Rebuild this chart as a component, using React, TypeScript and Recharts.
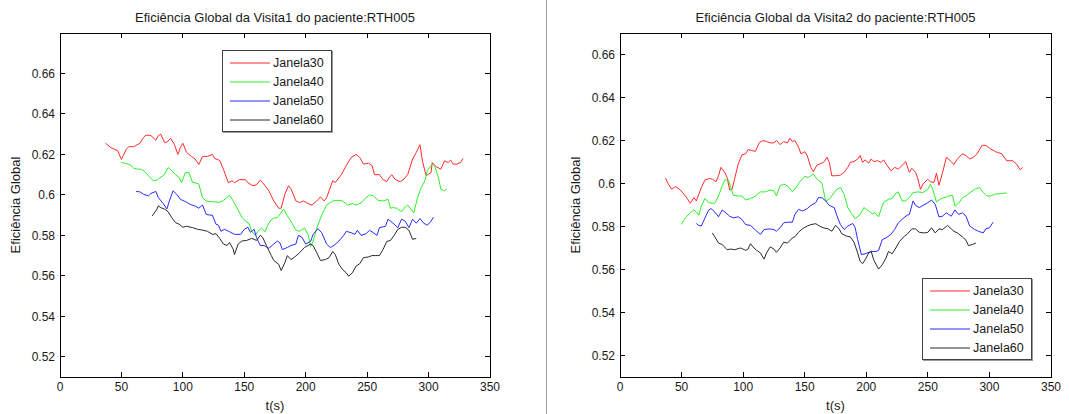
import React from 'react';
import {
  LineChart,
  Line,
  XAxis,
  YAxis,
  ReferenceArea,
  Legend,
} from 'recharts';

// [t (s), eficiência global]
const V1_J30: [number, number][] = [
  [37, 0.6256], [41, 0.6235], [47, 0.6218], [50, 0.6175], [54, 0.6226], [56, 0.6238], [60, 0.6238], [65, 0.6255],
  [68, 0.6284], [70, 0.6296], [74, 0.6293], [78, 0.627], [80, 0.6293], [82, 0.63], [85, 0.626], [87, 0.626],
  [90, 0.628], [93, 0.625], [96, 0.62], [98, 0.6235], [100, 0.6255], [103, 0.621], [107, 0.619], [110, 0.6177],
  [113, 0.615], [116, 0.619], [120, 0.619], [124, 0.62], [126, 0.618], [130, 0.617], [133, 0.6127], [137, 0.606],
  [140, 0.607], [142, 0.606], [146, 0.6075], [151, 0.6075], [153, 0.606], [157, 0.6045], [160, 0.605], [163, 0.6073],
  [165, 0.606], [170, 0.602], [174, 0.597], [178, 0.5934], [180, 0.5934], [183, 0.6003], [186, 0.6045], [188, 0.603],
  [192, 0.597], [195, 0.5962], [198, 0.597], [202, 0.5957], [205, 0.595], [209, 0.597], [212, 0.599], [215, 0.597],
  [217, 0.5986], [222, 0.607], [224, 0.6061], [229, 0.61], [233, 0.6145], [237, 0.6185], [241, 0.62], [244, 0.6185],
  [247, 0.6152], [251, 0.6157], [254, 0.6145], [256, 0.61], [260, 0.61], [263, 0.6075], [266, 0.6066], [268, 0.6086],
  [270, 0.61], [273, 0.6075], [277, 0.6065], [280, 0.6078], [283, 0.61], [287, 0.6177], [290, 0.621], [293, 0.6248],
  [295, 0.6168], [298, 0.6095], [302, 0.611], [303, 0.616], [306, 0.614], [310, 0.6127], [313, 0.6168], [316, 0.616],
  [318, 0.6172], [320, 0.6152], [323, 0.6152], [326, 0.616], [328, 0.618],
];

const V1_J40: [number, number][] = [
  [50, 0.616], [54, 0.6155], [57, 0.6149], [60, 0.6132], [63, 0.6127], [66, 0.6127], [69, 0.6116], [72, 0.6094],
  [76, 0.607], [79, 0.6073], [81, 0.6083], [85, 0.61], [88, 0.6135], [91, 0.612], [94, 0.61], [97, 0.6086],
  [99, 0.606], [102, 0.611], [105, 0.611], [108, 0.606], [110, 0.606], [113, 0.6053], [116, 0.5986], [119, 0.597],
  [122, 0.5967], [126, 0.5965], [130, 0.5963], [133, 0.5973], [136, 0.5987], [138, 0.5998], [141, 0.597], [144, 0.5937],
  [148, 0.589], [151, 0.587], [154, 0.5858], [156, 0.582], [159, 0.58], [161, 0.582], [164, 0.5836], [167, 0.5818],
  [169, 0.585], [172, 0.5878], [174, 0.5885], [177, 0.5888], [179, 0.5905], [182, 0.593], [185, 0.5896], [188, 0.587],
  [192, 0.5825], [195, 0.582], [199, 0.5836], [202, 0.5803], [204, 0.5745], [206, 0.577], [209, 0.5836], [213, 0.59],
  [217, 0.595], [222, 0.597], [226, 0.5973], [230, 0.597], [234, 0.595], [238, 0.5957], [241, 0.595], [245, 0.596],
  [249, 0.5986], [252, 0.6], [255, 0.5995], [259, 0.5973], [263, 0.597], [267, 0.5978], [269, 0.5934], [271, 0.5937],
  [274, 0.5934], [278, 0.5917], [280, 0.5934], [283, 0.595], [285, 0.5934], [288, 0.5912], [291, 0.5986], [294, 0.6036],
  [297, 0.607], [299, 0.612], [303, 0.6152], [305, 0.6143], [308, 0.6086], [310, 0.6028], [313, 0.602], [315, 0.6031],
];

const V1_J50: [number, number][] = [
  [62, 0.6017], [65, 0.6015], [68, 0.6003], [72, 0.5995], [74, 0.6007], [78, 0.6017], [80, 0.5987], [84, 0.5957],
  [87, 0.593], [89, 0.597], [92, 0.602], [95, 0.6003], [98, 0.5978], [102, 0.5967], [106, 0.5953], [110, 0.5945],
  [113, 0.5934], [116, 0.595], [119, 0.5904], [122, 0.59], [124, 0.59], [127, 0.5855], [129, 0.585], [131, 0.582],
  [134, 0.583], [138, 0.5818], [142, 0.5805], [147, 0.5805], [150, 0.583], [153, 0.584], [155, 0.5815], [158, 0.583],
  [160, 0.5788], [163, 0.575], [166, 0.575], [170, 0.5736], [173, 0.5752], [177, 0.5772], [179, 0.5763], [181, 0.573],
  [185, 0.574], [188, 0.575], [192, 0.5757], [194, 0.58], [197, 0.579], [200, 0.5757], [204, 0.577], [206, 0.5805],
  [210, 0.5833], [213, 0.5813], [217, 0.5757], [220, 0.574], [223, 0.575], [227, 0.5772], [231, 0.58], [233, 0.582],
  [237, 0.5813], [240, 0.5805], [242, 0.5825], [245, 0.58], [249, 0.5808], [252, 0.5825], [255, 0.5813], [258, 0.58],
  [260, 0.5838], [265, 0.5845], [267, 0.588], [271, 0.586], [275, 0.5838], [278, 0.588], [281, 0.587], [284, 0.5838],
  [287, 0.588], [290, 0.586], [293, 0.5883], [296, 0.586], [299, 0.585], [302, 0.587], [304, 0.589],
];

const V1_J60: [number, number][] = [
  [75, 0.5896], [79, 0.593], [80, 0.5946], [82, 0.5937], [85, 0.593], [88, 0.5917], [91, 0.5887], [94, 0.5863],
  [97, 0.5855], [100, 0.584], [103, 0.5845], [108, 0.5838], [112, 0.583], [116, 0.5826], [120, 0.582], [124, 0.5805],
  [127, 0.5808], [130, 0.5785], [133, 0.5757], [136, 0.575], [138, 0.5765], [141, 0.5731], [142, 0.5705], [145, 0.5757],
  [148, 0.5772], [152, 0.5775], [156, 0.5785], [160, 0.5775], [163, 0.58], [165, 0.579], [168, 0.575], [172, 0.57],
  [174, 0.5676], [178, 0.5657], [180, 0.5626], [183, 0.5665], [185, 0.57], [188, 0.568], [191, 0.5693], [195, 0.5714],
  [199, 0.574], [204, 0.5757], [206, 0.575], [209, 0.5714], [212, 0.5676], [216, 0.568], [219, 0.569], [222, 0.572],
  [224, 0.5706], [227, 0.5657], [230, 0.5631], [233, 0.5615], [235, 0.5598], [238, 0.5615], [241, 0.5648], [244, 0.566],
  [247, 0.569], [251, 0.5693], [254, 0.57], [257, 0.57], [260, 0.57], [263, 0.5731], [266, 0.577], [269, 0.5775],
  [272, 0.58], [275, 0.583], [278, 0.584], [281, 0.584], [284, 0.5825], [287, 0.578], [290, 0.5785],
];

const V2_J30: [number, number][] = [
  [37, 0.6025], [39, 0.6], [42, 0.5973], [45, 0.5986], [49, 0.597], [52, 0.595], [55, 0.5927], [57, 0.5908],
  [60, 0.5934], [62, 0.5919], [64, 0.595], [66, 0.598], [69, 0.6017], [73, 0.6023], [75, 0.602], [78, 0.6008],
  [80, 0.6036], [82, 0.6075], [85, 0.6052], [87, 0.6028], [89, 0.597], [91, 0.5973], [93, 0.602], [96, 0.609],
  [99, 0.6133], [102, 0.6138], [104, 0.6158], [107, 0.6153], [110, 0.615], [113, 0.6189], [116, 0.62], [119, 0.6195],
  [122, 0.6189], [125, 0.6189], [127, 0.62], [130, 0.6181], [133, 0.6195], [136, 0.6189], [138, 0.6211], [140, 0.6195],
  [142, 0.62], [145, 0.6169], [147, 0.6138], [150, 0.6148], [152, 0.613], [155, 0.6075], [157, 0.6055], [160, 0.6086],
  [164, 0.6095], [166, 0.6102], [168, 0.6122], [170, 0.6098], [172, 0.6036], [175, 0.6036], [179, 0.6039], [182, 0.6052],
  [185, 0.6075], [187, 0.6098], [190, 0.6102], [193, 0.6114], [195, 0.613], [197, 0.6098], [199, 0.611], [202, 0.6095],
  [204, 0.6114], [206, 0.6102], [209, 0.6106], [212, 0.6098], [214, 0.611], [217, 0.6083], [220, 0.6059], [223, 0.6075],
  [226, 0.6067], [229, 0.6083], [232, 0.6102], [235, 0.6052], [237, 0.607], [240, 0.6052], [242, 0.602], [244, 0.5973],
  [246, 0.5997], [250, 0.602], [252, 0.6008], [255, 0.6005], [257, 0.6048], [259, 0.5992], [262, 0.6052], [265, 0.6122],
  [269, 0.6102], [271, 0.6088], [274, 0.6114], [278, 0.6138], [281, 0.613], [284, 0.6114], [287, 0.6122], [290, 0.6138],
  [294, 0.6177], [297, 0.6177], [301, 0.6161], [305, 0.6148], [310, 0.6138], [314, 0.6106], [316, 0.6106], [319, 0.6106],
  [322, 0.609], [325, 0.6064], [327, 0.6075],
];

const V2_J40: [number, number][] = [
  [50, 0.581], [53, 0.584], [57, 0.5864], [60, 0.5877], [62, 0.5867], [64, 0.5852], [66, 0.5895], [69, 0.593],
  [72, 0.5911], [75, 0.5908], [77, 0.5908], [80, 0.5942], [83, 0.5989], [85, 0.6016], [88, 0.6017], [90, 0.5981],
  [92, 0.5945], [96, 0.5942], [99, 0.5942], [102, 0.5923], [106, 0.593], [110, 0.5942], [114, 0.5961], [118, 0.5961],
  [122, 0.597], [125, 0.5966], [127, 0.5942], [130, 0.5989], [133, 0.5997], [136, 0.5989], [140, 0.5961], [143, 0.5981],
  [146, 0.6008], [150, 0.6033], [153, 0.6028], [157, 0.6044], [160, 0.602], [164, 0.6002], [165, 0.5973], [167, 0.5919],
  [170, 0.5927], [174, 0.5958], [176, 0.5973], [179, 0.5981], [182, 0.595], [185, 0.5888], [188, 0.5861], [191, 0.5836],
  [195, 0.5856], [198, 0.5888], [202, 0.5872], [205, 0.5859], [207, 0.5864], [210, 0.5845], [212, 0.588], [214, 0.5911],
  [218, 0.5927], [221, 0.593], [224, 0.5955], [226, 0.5961], [229, 0.5919], [232, 0.5919], [235, 0.5934], [238, 0.5958],
  [242, 0.5961], [246, 0.5958], [250, 0.5973], [252, 0.5997], [254, 0.5973], [257, 0.5914], [260, 0.5927], [263, 0.5934],
  [267, 0.5942], [270, 0.5945], [272, 0.5895], [275, 0.5908], [278, 0.5934], [281, 0.5942], [285, 0.5961], [288, 0.5973],
  [292, 0.5981], [295, 0.5958], [298, 0.5942], [301, 0.5942], [304, 0.595], [308, 0.5953], [311, 0.5955], [314, 0.5955],
];

const V2_J50: [number, number][] = [
  [62, 0.5814], [64, 0.5805], [66, 0.5802], [69, 0.584], [72, 0.5877], [74, 0.5883], [77, 0.5867], [80, 0.5845],
  [83, 0.5877], [86, 0.5864], [89, 0.5848], [92, 0.584], [96, 0.5845], [99, 0.5833], [102, 0.5809], [106, 0.5805],
  [110, 0.5783], [114, 0.5763], [117, 0.5786], [121, 0.5789], [125, 0.5786], [127, 0.5778], [130, 0.5794], [133, 0.5817],
  [136, 0.582], [140, 0.582], [142, 0.5856], [145, 0.588], [148, 0.5872], [152, 0.5883], [155, 0.5898], [159, 0.5911],
  [161, 0.5934], [164, 0.5934], [167, 0.5919], [170, 0.5898], [174, 0.5888], [176, 0.5852], [179, 0.5809], [182, 0.5786],
  [185, 0.5802], [189, 0.5814], [191, 0.5794], [193, 0.5739], [196, 0.5669], [199, 0.5673], [204, 0.5684], [208, 0.5684],
  [210, 0.5689], [213, 0.5739], [216, 0.5747], [220, 0.5763], [223, 0.5786], [226, 0.5817], [229, 0.5833], [233, 0.5852],
  [235, 0.5856], [238, 0.5919], [240, 0.5898], [243, 0.5888], [246, 0.5898], [250, 0.5911], [253, 0.5923], [256, 0.5903],
  [259, 0.5845], [262, 0.5848], [265, 0.5864], [269, 0.5848], [272, 0.5877], [275, 0.5856], [278, 0.5864], [281, 0.5848],
  [284, 0.5802], [288, 0.5786], [291, 0.5778], [295, 0.577], [297, 0.5789], [300, 0.5794], [303, 0.582],
];

const V2_J60: [number, number][] = [
  [75, 0.577], [77, 0.5752], [80, 0.5723], [83, 0.5716], [87, 0.5692], [90, 0.5695], [93, 0.5692], [98, 0.57],
  [102, 0.5689], [104, 0.5695], [106, 0.572], [108, 0.5705], [111, 0.5689], [114, 0.5677], [117, 0.5648], [119, 0.5677],
  [122, 0.5705], [125, 0.5695], [127, 0.568], [130, 0.57], [133, 0.5727], [136, 0.5723], [140, 0.5747], [142, 0.5752],
  [145, 0.5773], [148, 0.5789], [152, 0.5802], [155, 0.5809], [159, 0.5813], [162, 0.5802], [165, 0.5794], [169, 0.5789],
  [172, 0.5778], [175, 0.5805], [178, 0.5789], [180, 0.5767], [184, 0.5755], [187, 0.5752], [190, 0.5727], [193, 0.5677],
  [195, 0.5638], [197, 0.5627], [199, 0.5645], [202, 0.5677], [204, 0.5684], [206, 0.5645], [210, 0.5602], [213, 0.5622],
  [216, 0.5653], [218, 0.5684], [221, 0.5673], [224, 0.57], [227, 0.5731], [231, 0.5755], [233, 0.5763], [237, 0.5789],
  [240, 0.5789], [243, 0.5773], [247, 0.577], [250, 0.5773], [253, 0.5794], [256, 0.577], [259, 0.5789], [262, 0.5786],
  [266, 0.5805], [269, 0.5789], [271, 0.5778], [274, 0.577], [278, 0.5752], [281, 0.5736], [283, 0.5711], [286, 0.5716],
  [289, 0.5723],
];

const X_TICKS = [0, 50, 100, 150, 200, 250, 300, 350];
const Y_TICKS = [0.52, 0.54, 0.56, 0.58, 0.6, 0.62, 0.64, 0.66];
const NAMES = ['Janela30', 'Janela40', 'Janela50', 'Janela60'];
const COLORS = ['#ff2a2a', '#2af02a', '#2a2aff', '#2a2a2a'];

const toRows = (pts: [number, number][]) => pts.map(([t, v]) => ({ t, v }));

const FONT = 'Arial, "Liberation Sans", Helvetica, sans-serif';
const TOP = 33;
const BOTTOM = 377;
const TICK = 5;

const fmt = (v: number) => String(Number(v.toFixed(2)));

const makeYTick = (left: number, right: number) => (props: any) => {
  const { x, y, payload } = props;
  return (
    <g>
      <line x1={left} x2={left + TICK} y1={y} y2={y} stroke="#000" shapeRendering="crispEdges" />
      <line x1={right - TICK} x2={right} y1={y} y2={y} stroke="#000" shapeRendering="crispEdges" />
      <text x={x} y={y} dy="0.36em" textAnchor="end" fontSize={12} fill="#1a1a1a">
        {fmt(payload.value)}
      </text>
    </g>
  );
};

const XTick = (props: any) => {
  const { x, payload } = props;
  return (
    <g>
      <line x1={x} x2={x} y1={BOTTOM} y2={BOTTOM - TICK} stroke="#000" shapeRendering="crispEdges" />
      <line x1={x} x2={x} y1={TOP} y2={TOP + TICK} stroke="#000" shapeRendering="crispEdges" />
      <text x={x} y={BOTTOM + 4} dy="0.8em" textAnchor="middle" fontSize={12} fill="#1a1a1a">
        {payload.value}
      </text>
    </g>
  );
};

const LegendBox = (props: any) => (
  <div
    style={{
      border: '1px solid #404040',
      boxShadow: '1px 1px 0 #9a9a9a',
      background: '#fff',
      padding: '2px 0 2px 7px',
      fontFamily: FONT,
    }}
  >
    {(props.payload || []).map((e: any) => (
      <div key={e.value} style={{ display: 'flex', alignItems: 'center', height: 19 }}>
        <svg width={40} height={10}>
          <line x1={0} x2={40} y1={5} y2={5} stroke={e.color} strokeWidth={1} />
        </svg>
        <span style={{ marginLeft: 3, fontSize: 12.5, color: '#1a1a1a' }}>{e.value}</span>
      </div>
    ))}
  </div>
);

interface PanelProps {
  left: number;
  width: number;
  rightMargin: number;
  yMax: number;
  title: string;
  series: [number, number][][];
  legendPos: { left: number; top: number };
}

function Panel({ left, width, rightMargin, yMax, title, series, legendPos }: PanelProps) {
  const plotLeft = 60;
  const plotRight = width - rightMargin;
  return (
    <div style={{ position: 'absolute', left, top: 0, width, height: 414 }}>
      <div
        style={{
          position: 'absolute',
          left: plotLeft,
          width: plotRight - plotLeft,
          top: 10,
          textAlign: 'center',
          fontSize: 13,
          color: '#1a1a1a',
          whiteSpace: 'nowrap',
        }}
      >
        {title}
      </div>
      <LineChart width={width} height={414} margin={{ top: TOP, right: rightMargin, bottom: 0, left: 0 }}>
        <XAxis
          dataKey="t"
          type="number"
          domain={[0, 350]}
          ticks={X_TICKS}
          height={414 - BOTTOM}
          axisLine={false}
          tickLine={false}
          tickSize={0}
          tick={XTick}
          interval={0}
          label={{ value: 't(s)', position: 'insideBottom', offset: 4, fontSize: 13, fill: '#1a1a1a' }}
        />
        <YAxis
          type="number"
          domain={[0.51, yMax]}
          ticks={Y_TICKS}
          allowDataOverflow
          width={plotLeft}
          axisLine={false}
          tickLine={false}
          tickSize={0}
          tickMargin={5}
          interval={0}
          tick={makeYTick(plotLeft, plotRight)}
          label={{
            value: 'Eficiência Global',
            angle: -90,
            position: 'insideLeft',
            offset: 15,
            fontSize: 13,
            fill: '#1a1a1a',
            style: { textAnchor: 'middle' },
          }}
        />
        <ReferenceArea
          x1={0}
          x2={350}
          y1={0.51}
          y2={yMax}
          fill="none"
          fillOpacity={0}
          stroke="#000"
          strokeOpacity={1}
          shapeRendering="crispEdges"
        />
        {series.map((pts, i) => (
          <Line
            key={NAMES[i]}
            data={toRows(pts)}
            dataKey="v"
            name={NAMES[i]}
            type="linear"
            stroke={COLORS[i]}
            strokeWidth={1}
            dot={false}
            activeDot={false}
            isAnimationActive={false}
          />
        ))}
        <Legend
          layout="horizontal"
          verticalAlign="middle"
          align="center"
          content={LegendBox}
          wrapperStyle={{ left: legendPos.left, top: legendPos.top, width: 110, height: 'auto' }}
        />
      </LineChart>
    </div>
  );
}

export default function App() {
  return (
    <div
      style={{
        position: 'absolute',
        left: 0,
        top: 0,
        width: 1069,
        height: 414,
        background: '#fff',
        fontFamily: FONT,
        overflow: 'hidden',
      }}
    >
      <Panel
        left={0}
        width={540}
        rightMargin={50}
        yMax={0.68}
        title="Eficiência Global da Visita1 do paciente:RTH005"
        series={[V1_J30, V1_J40, V1_J50, V1_J60]}
        legendPos={{ left: 222, top: 50 }}
      />
      <div style={{ position: 'absolute', left: 546, top: 0, width: 1, height: 414, background: '#a0a0a0' }} />
      <Panel
        left={560}
        width={509}
        rightMargin={18}
        yMax={0.67}
        title="Eficiência Global da Visita2 do paciente:RTH005"
        series={[V2_J30, V2_J40, V2_J50, V2_J60]}
        legendPos={{ left: 362, top: 278 }}
      />
    </div>
  );
}
